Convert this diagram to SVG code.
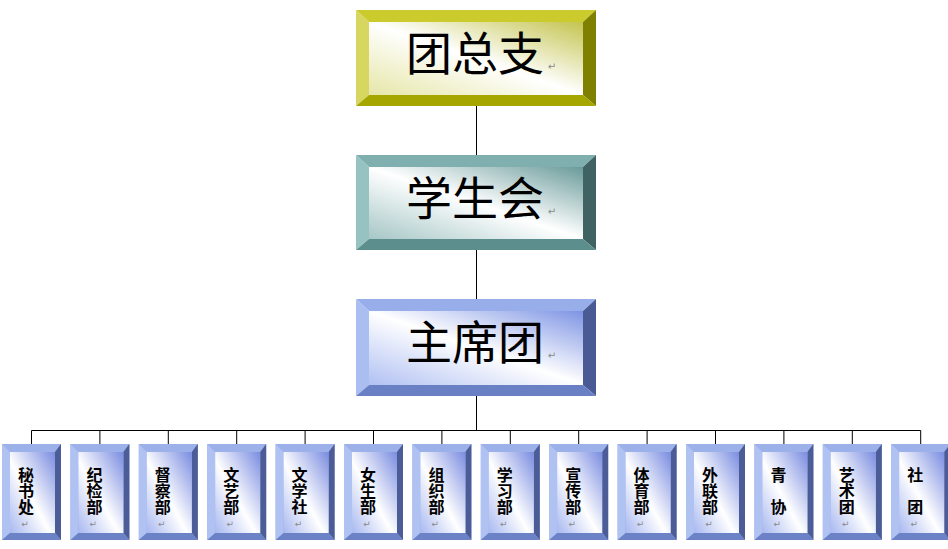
<svg xmlns="http://www.w3.org/2000/svg" xmlns:xlink="http://www.w3.org/1999/xlink" width="948" height="549" viewBox="0 0 948 549">
<defs>
<style>
.big{font-family:"Noto Sans CJK SC","Noto Sans CJK JP",sans-serif;font-size:46px;fill:#000;text-anchor:middle}
.small{font-family:"Noto Sans CJK SC","Noto Sans CJK JP",sans-serif;font-size:16px;font-weight:bold;fill:#000;writing-mode:vertical-rl;text-orientation:upright}
.ret{font-family:"DejaVu Sans",sans-serif;fill:#8a8a8a;text-anchor:middle}
.conn{stroke:#000;stroke-width:1;fill:none}
</style>
<linearGradient id="gY" x1="0" y1="1" x2="1" y2="0">
<stop offset="0" stop-color="#E6E6A8"/><stop offset="0.5" stop-color="#FFFFFF"/><stop offset="1" stop-color="#C4C450"/>
</linearGradient>
<linearGradient id="gT" x1="0" y1="1" x2="1" y2="0">
<stop offset="0" stop-color="#A6C6C6"/><stop offset="0.5" stop-color="#FFFFFF"/><stop offset="1" stop-color="#6A9A9A"/>
</linearGradient>
<linearGradient id="gB" x1="0" y1="1" x2="1" y2="0">
<stop offset="0" stop-color="#B0C0F2"/><stop offset="0.5" stop-color="#FFFFFF"/><stop offset="1" stop-color="#7E94E4"/>
</linearGradient>
<linearGradient id="gS" x1="0" y1="1" x2="1" y2="0">
<stop offset="0" stop-color="#A8B8F0"/><stop offset="0.45" stop-color="#FFFFFF"/><stop offset="1" stop-color="#7A8CE0"/>
</linearGradient>
<g id="sbox">
<rect x="0" y="0" width="59" height="96" fill="#98ACE8"/>
<polygon points="0,0 59,0 53,8 8,8" fill="#9CB0EA"/>
<polygon points="0,0 8,8 8,89 0,96" fill="#B0C2F2"/>
<polygon points="59,0 59,96 53,89 53,8" fill="#4C5C96"/>
<polygon points="0,96 8,89 53,89 59,96" fill="#6C82C6"/>
<rect x="8" y="8" width="45" height="81" fill="url(#gS)"/>
</g>
</defs>
<rect width="948" height="549" fill="#fff"/>

<g id="connectors">
<path class="conn" d="M476.5 106V155M476.5 250V299M476.5 396V430.5"/>
<path class="conn" d="M31.5 430.5H920.7"/>
<path class="conn" d="M31.5 430.5V444M99.9 430.5V444M168.3 430.5V444M236.7 430.5V444M305.1 430.5V444M373.5 430.5V444M441.9 430.5V444M510.3 430.5V444M578.7 430.5V444M647.1 430.5V444M715.5 430.5V444M783.9 430.5V444M852.3 430.5V444M920.7 430.5V444"/>
</g>

<g id="node-tuanzongzhi" transform="translate(356,10)">
<polygon points="0,0 240,0 227,12 13,12" fill="#CBCB2E"/>
<polygon points="0,0 13,12 13,85 0,96" fill="#D6D660"/>
<polygon points="240,0 240,96 227,85 227,12" fill="#808000"/>
<polygon points="0,96 13,85 227,85 240,96" fill="#A6A600"/>
<rect x="13" y="12" width="214" height="73" fill="url(#gY)"/>
<text class="big" x="119" y="59.5">团总支</text>
<text class="ret" x="196" y="60" font-size="10">↵</text>
</g>

<g id="node-xueshenghui" transform="translate(356,155)">
<polygon points="0,0 240,0 227,12 13,12" fill="#80AFAF"/>
<polygon points="0,0 13,12 13,84 0,95" fill="#96C2C2"/>
<polygon points="240,0 240,95 227,84 227,12" fill="#406262"/>
<polygon points="0,95 13,84 227,84 240,95" fill="#5C8E8E"/>
<rect x="13" y="12" width="214" height="72" fill="url(#gT)"/>
<text class="big" x="119" y="59.5">学生会</text>
<text class="ret" x="196" y="60" font-size="10">↵</text>
</g>

<g id="node-zhuxituan" transform="translate(356,299)">
<polygon points="0,0 240,0 227,12 13,12" fill="#98AEEA"/>
<polygon points="0,0 13,12 13,86 0,97" fill="#AABEF2"/>
<polygon points="240,0 240,97 227,86 227,12" fill="#4A5A94"/>
<polygon points="0,97 13,86 227,86 240,97" fill="#6A80C4"/>
<rect x="13" y="12" width="214" height="74" fill="url(#gB)"/>
<text class="big" x="119" y="59.5">主席团</text>
<text class="ret" x="196" y="60" font-size="10">↵</text>
</g>

<g id="node-mishuchu" transform="translate(2,444)"><use xlink:href="#sbox"/><text class="small" x="24" y="23">秘书处</text><text class="ret" x="23" y="83" font-size="9">↵</text></g>
<g id="node-jijianbu" transform="translate(70.4,444)"><use xlink:href="#sbox"/><text class="small" x="24" y="23">纪检部</text><text class="ret" x="23" y="83" font-size="9">↵</text></g>
<g id="node-duchabu" transform="translate(138.8,444)"><use xlink:href="#sbox"/><text class="small" x="24" y="23">督察部</text><text class="ret" x="23" y="83" font-size="9">↵</text></g>
<g id="node-wenyibu" transform="translate(207.2,444)"><use xlink:href="#sbox"/><text class="small" x="24" y="23">文艺部</text><text class="ret" x="23" y="83" font-size="9">↵</text></g>
<g id="node-wenxueshe" transform="translate(275.6,444)"><use xlink:href="#sbox"/><text class="small" x="24" y="23">文学社</text><text class="ret" x="23" y="83" font-size="9">↵</text></g>
<g id="node-nushengbu" transform="translate(344,444)"><use xlink:href="#sbox"/><text class="small" x="24" y="23">女生部</text><text class="ret" x="23" y="83" font-size="9">↵</text></g>
<g id="node-zuzhibu" transform="translate(412.4,444)"><use xlink:href="#sbox"/><text class="small" x="24" y="23">组织部</text><text class="ret" x="23" y="83" font-size="9">↵</text></g>
<g id="node-xuexibu" transform="translate(480.8,444)"><use xlink:href="#sbox"/><text class="small" x="24" y="23">学习部</text><text class="ret" x="23" y="83" font-size="9">↵</text></g>
<g id="node-xuanchuanbu" transform="translate(549.2,444)"><use xlink:href="#sbox"/><text class="small" x="24" y="23">宣传部</text><text class="ret" x="23" y="83" font-size="9">↵</text></g>
<g id="node-tiyubu" transform="translate(617.6,444)"><use xlink:href="#sbox"/><text class="small" x="24" y="23">体育部</text><text class="ret" x="23" y="83" font-size="9">↵</text></g>
<g id="node-wailianbu" transform="translate(686,444)"><use xlink:href="#sbox"/><text class="small" x="24" y="23">外联部</text><text class="ret" x="23" y="83" font-size="9">↵</text></g>
<g id="node-qingxie" transform="translate(754.4,444)"><use xlink:href="#sbox"/><text class="small" x="24" y="23">青　协</text><text class="ret" x="23" y="83" font-size="9">↵</text></g>
<g id="node-yishutuan" transform="translate(822.8,444)"><use xlink:href="#sbox"/><text class="small" x="24" y="23">艺术团</text><text class="ret" x="23" y="83" font-size="9">↵</text></g>
<g id="node-shetuan" transform="translate(891.2,444)"><use xlink:href="#sbox"/><text class="small" x="24" y="23">社　团</text><text class="ret" x="23" y="83" font-size="9">↵</text></g>
</svg>
